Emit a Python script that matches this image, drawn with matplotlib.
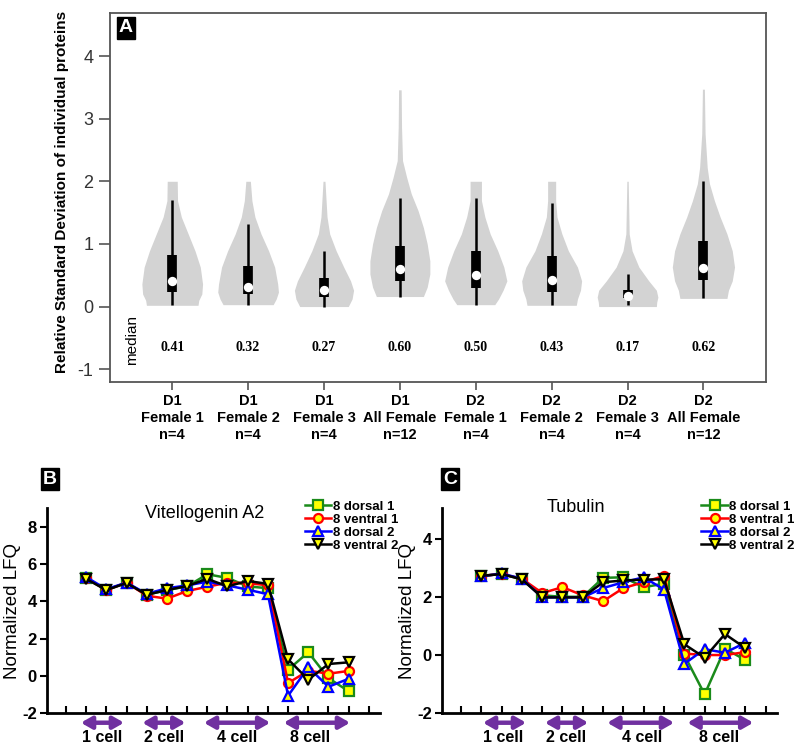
import numpy as np
import matplotlib
matplotlib.use("Agg")
import matplotlib.pyplot as plt

plt.rcParams['font.family'] = ['Liberation Sans', 'DejaVu Sans']

# ---- panel A: violins ----
group_labels = ["D1\nFemale 1\nn=4", "D1\nFemale 2\nn=4", "D1\nFemale 3\nn=4",
                "D1\nAll Female\nn=12", "D2\nFemale 1\nn=4", "D2\nFemale 2\nn=4",
                "D2\nFemale 3\nn=4", "D2\nAll Female\nn=12"]
medians = [0.41, 0.32, 0.27, 0.60, 0.50, 0.43, 0.17, 0.62]
q1 = [0.24, 0.20, 0.16, 0.41, 0.30, 0.24, 0.13, 0.42]
q3 = [0.83, 0.64, 0.46, 0.97, 0.89, 0.81, 0.26, 1.05]
whisk_lo = [0.02, 0.03, 0.00, 0.16, 0.03, 0.02, 0.02, 0.13]
whisk_hi = [1.70, 1.32, 0.88, 1.74, 1.73, 1.65, 0.52, 2.00]

# violin outline: y levels and half widths
violin_y = [
    [0.02, 0.10, 0.20, 0.36, 0.63, 0.89, 1.16, 1.43, 1.69, 2.00],
    [0.03, 0.12, 0.23, 0.36, 0.63, 0.89, 1.16, 1.43, 1.69, 2.00],
    [0.00, 0.12, 0.26, 0.41, 0.63, 0.89, 1.16, 1.43, 2.00],
    [0.16, 0.31, 0.52, 0.73, 1.00, 1.26, 1.53, 1.80, 2.06, 2.33, 2.86, 3.46],
    [0.03, 0.12, 0.26, 0.41, 0.63, 0.89, 1.16, 1.43, 1.69, 2.00],
    [0.02, 0.12, 0.26, 0.41, 0.63, 0.89, 1.16, 1.43, 1.69, 2.00],
    [0.00, 0.07, 0.15, 0.26, 0.41, 0.63, 0.89, 1.16, 2.00],
    [0.13, 0.26, 0.41, 0.63, 0.89, 1.16, 1.43, 1.69, 1.96, 2.22, 2.76, 3.47],
]
violin_hw = [
    [0.34, 0.35, 0.39, 0.40, 0.37, 0.30, 0.21, 0.12, 0.07, 0.066],
    [0.33, 0.37, 0.40, 0.39, 0.35, 0.27, 0.17, 0.09, 0.05, 0.03],
    [0.32, 0.37, 0.39, 0.35, 0.26, 0.16, 0.075, 0.04, 0.013],
    [0.31, 0.36, 0.395, 0.395, 0.36, 0.31, 0.24, 0.15, 0.09, 0.035, 0.022, 0.017],
    [0.25, 0.30, 0.36, 0.41, 0.37, 0.29, 0.19, 0.12, 0.075, 0.075],
    [0.325, 0.34, 0.38, 0.395, 0.34, 0.22, 0.135, 0.07, 0.053, 0.053],
    [0.38, 0.385, 0.40, 0.38, 0.28, 0.15, 0.06, 0.022, 0.009],
    [0.31, 0.33, 0.38, 0.41, 0.38, 0.31, 0.22, 0.145, 0.08, 0.05, 0.022, 0.013],
]

# ---- panels B and C: normalized LFQ ----
series_names = ["8 dorsal 1", "8 ventral 1", "8 dorsal 2", "8 ventral 2"]
vitello = {
    "8 dorsal 1": [5.25, 4.6, 5.0, 4.35, 4.6, 4.8, 5.45, 5.25, 4.8, 4.7, 0.33, 1.27, -0.12, -0.82],
    "8 ventral 1": [5.25, 4.6, 5.0, 4.3, 4.14, 4.55, 4.78, 5.0, 4.97, 4.86, -0.38, 0.28, 0.12, 0.27],
    "8 dorsal 2": [5.3, 4.65, 5.0, 4.4, 4.7, 4.85, 5.05, 4.85, 4.62, 4.38, -1.06, 0.46, -0.58, -0.15],
    "8 ventral 2": [5.2, 4.6, 4.98, 4.35, 4.6, 4.82, 5.2, 4.8, 5.09, 4.93, 0.89, -0.2, 0.64, 0.73],
}
tubulin = {
    "8 dorsal 1": [2.72, 2.78, 2.6, 2.05, 2.0, 2.0, 2.65, 2.67, 2.33, 2.45, 0.0, -1.35, 0.22, -0.17],
    "8 ventral 1": [2.72, 2.78, 2.62, 2.13, 2.33, 2.05, 1.85, 2.3, 2.5, 2.72, 0.05, 0.0, 0.0, 0.1],
    "8 dorsal 2": [2.7, 2.8, 2.62, 1.98, 1.98, 1.98, 2.3, 2.5, 2.67, 2.25, -0.3, 0.2, 0.08, 0.42],
    "8 ventral 2": [2.72, 2.78, 2.6, 1.98, 1.98, 1.98, 2.5, 2.56, 2.59, 2.6, 0.37, -0.09, 0.72, 0.24],
}
stage_names = ["1 cell", "2 cell", "4 cell", "8 cell"]

styles = {
    "8 dorsal 1": dict(color="#1a8a1a", marker="s"),
    "8 ventral 1": dict(color="#ff0000", marker="o"),
    "8 dorsal 2": dict(color="#0000ff", marker="^"),
    "8 ventral 2": dict(color="#000000", marker="v"),
}

fig = plt.figure(figsize=(8, 7.52), dpi=100)

# ---------- panel A ----------
axA = fig.add_axes([0.1375, 0.4924, 0.8205, 0.4906])
for i in range(len(medians)):
    x = i + 1
    y = np.array(violin_y[i])
    hw = np.array(violin_hw[i])
    axA.fill_betweenx(y, x - hw, x + hw, color="#d3d3d3", lw=0, zorder=1)
    axA.vlines(x, whisk_lo[i], whisk_hi[i], color="black", lw=1.8, zorder=2)
    axA.vlines(x, q1[i], q3[i], color="black", lw=7, zorder=3)
    axA.scatter([x], [medians[i]], s=45, color="white", zorder=4, lw=0)
    axA.text(x, -0.65, f"{medians[i]:.2f}", ha="center", va="center",
             family=["Liberation Serif", "DejaVu Serif"], weight="bold", fontsize=10)

axA.text(0.465, -0.53, "median", rotation=90, ha="center", va="center", fontsize=11)
axA.set_xlim(0.18, 8.83)
axA.set_ylim(-1.2, 4.69)
axA.set_yticks([-1, 0, 1, 2, 3, 4])
axA.set_yticklabels(["-1", "0", "1", "2", "3", "4"])
axA.set_xticks(range(1, 9))
axA.set_xticklabels(group_labels, fontweight="bold",
                    family=["Liberation Sans Narrow", "Liberation Sans"], fontsize=10.5,
                    linespacing=1.25)
axA.tick_params(axis="y", length=8, width=1.2, color="#555555", labelsize=13,
                labelcolor="#333333", pad=4)
axA.tick_params(axis="x", length=6, width=1.2, color="#555555", pad=3)
for s in axA.spines.values():
    s.set_color("#555555")
    s.set_linewidth(1.3)
fig.text(0.0775, 0.745, "Relative Standard Deviation of individual proteins",
         rotation=90, ha="center", va="center", fontsize=11, weight="bold")
fig.text(0.1575, 0.963, "A", color="white", weight="bold", fontsize=14,
         ha="center", va="center",
         bbox=dict(facecolor="black", edgecolor="black", boxstyle="square,pad=0.12"))


def draw_lfq(ax, data, title, title_pos, ylim, yticks, arrows, label_pos):
    xs = np.arange(1, 15)
    for name in series_names:
        st = styles[name]
        ax.plot(xs, data[name], color=st["color"], marker=st["marker"], lw=1.8,
                ms=6.5, mfc="#ffff00", mec=st["color"], mew=1.6, label=name)
    ax.set_xlim(-0.95, 15.55)
    ax.set_ylim(*ylim)
    ax.set_yticks(yticks)
    ax.set_yticklabels([str(t) for t in yticks], fontweight="bold", fontsize=12)
    ax.set_xticks(range(0, 16))
    ax.set_xticklabels([])
    ax.tick_params(axis="x", direction="in", length=5, width=1.5)
    ax.tick_params(axis="y", direction="out", length=5, width=1.5, pad=2)
    ax.spines["top"].set_visible(False)
    ax.spines["right"].set_visible(False)
    ax.spines["left"].set_linewidth(2)
    ax.spines["bottom"].set_linewidth(2)
    ax.set_ylabel("Normalized LFQ", fontsize=13.5, labelpad=1)
    ax.text(title_pos[0], title_pos[1], title, transform=ax.transAxes,
            ha="center", va="center", fontsize=13)
    ax.legend(loc="upper left", bbox_to_anchor=(0.775, 1.035), frameon=False,
              prop=dict(weight="bold", size=9.5), labelspacing=0.05,
              handlelength=2.0, handletextpad=0.1, borderaxespad=0, borderpad=0)
    for (x0, x1), lab, lx in zip(arrows, stage_names, label_pos):
        ax.annotate("", xy=(x1, -0.046), xytext=(x0, -0.046),
                    xycoords=("data", "axes fraction"), textcoords=("data", "axes fraction"),
                    arrowprops=dict(arrowstyle="<|-|>,head_length=0.7,head_width=0.4",
                                    color="#7030a0", lw=3.2,
                                    mutation_scale=9, shrinkA=0, shrinkB=0),
                    annotation_clip=False)
        ax.text(lx, -0.118, lab, transform=ax.get_xaxis_transform(), ha="center",
                va="center", fontsize=11.5, weight="bold")


axB = fig.add_axes([0.0584, 0.0515, 0.4166, 0.273])
draw_lfq(axB, vitello, "Vitellogenin A2", (0.475, 0.975), (-2, 9), [-2, 0, 2, 4, 6, 8],
         [(0.74, 2.88), (3.78, 5.92), (6.83, 10.12), (10.78, 14.07)],
         [1.8, 4.85, 8.47, 12.1])

axC = fig.add_axes([0.5521, 0.0515, 0.4188, 0.273])
draw_lfq(axC, tubulin, "Tubulin", (0.40, 1.0), (-2, 5.05), [-2, 0, 2, 4],
         [(1.08, 3.21), (4.13, 6.27), (7.2, 10.5), (11.15, 14.4)],
         [2.1, 5.2, 8.9, 12.7])

fig.text(0.0625, 0.363, "B", color="white", weight="bold", fontsize=14,
         ha="center", va="center",
         bbox=dict(facecolor="black", edgecolor="black", boxstyle="square,pad=0.12"))
fig.text(0.5625, 0.363, "C", color="white", weight="bold", fontsize=14,
         ha="center", va="center",
         bbox=dict(facecolor="black", edgecolor="black", boxstyle="square,pad=0.12"))

fig.savefig("out.png", dpi=100)
